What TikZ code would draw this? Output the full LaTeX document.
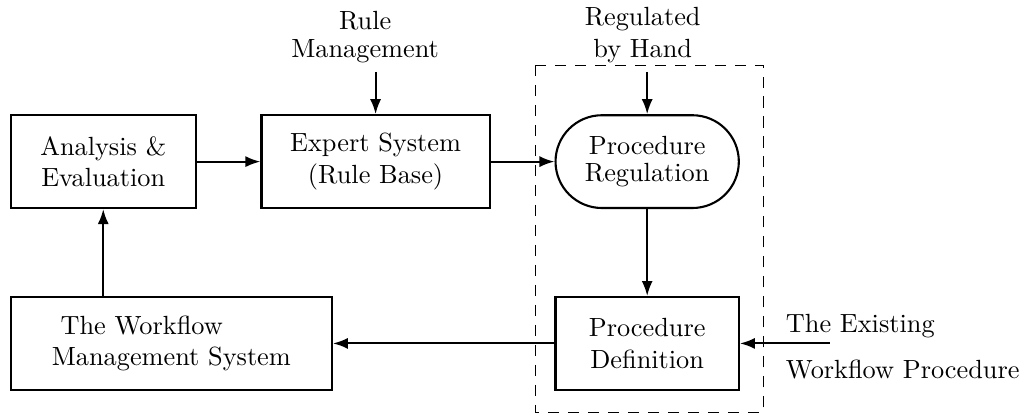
\documentclass[tikz,border=0pt]{standalone}
\usetikzlibrary{arrows.meta, positioning}
\tikzset{
    block/.style={draw, thick, minimum height=1.24cm, inner xsep=1pt, align=center},
    pill/.style={block, rounded corners=0.62cm},
    note/.style={align=center, inner sep=3pt, anchor=south},
}

\begin{document}
\begin{tikzpicture}[>={Latex[length=5.7pt,width=4.2pt]}, thick]
    \useasboundingbox (0,0) rectangle (13.82,-5.53);

    \node[block, minimum width=2.47cm] (ana) at (1.38, -2.16) {Analysis \&\\Evaluation};
    \node[block, minimum width=3.05cm] (exp) at (5.02, -2.16) {Expert System\\(Rule Base)};
    \node[pill, minimum width=2.45cm] (reg) at (8.65, -2.16) {Procedure\\[-1.4pt]Regulation};
    \node[block, minimum width=2.45cm] (def) at (8.65, -4.59) {Procedure\\Definition};
    \node[block, minimum width=4.29cm, align=left] (wfm) at (2.29, -4.59) {~The Workflow\\Management System};

    \node[note] (rule) at (4.88, -0.96) {Rule\\[-1.4pt]Management};
    \node[note] (hand) at (8.59, -0.96) {Regulated\\by Hand};
    \node[anchor=base west, inner sep=0] (ex1) at (10.49, -4.45) {The Existing};
    \node[anchor=base west, inner sep=0] (ex2) at (10.49, -5.06) {Workflow Procedure};
    \coordinate (src) at (11.09, -4.59);

    % region handled by the regulation step
    \draw[thin, dash pattern=on 4.2pt off 3.4pt] (7.16, -0.87) rectangle (10.20, -5.51);

    \draw[->] (ana) -- (exp);
    \draw[->] (exp) -- (reg);
    \draw[->] (reg) -- (def);
    \draw[->] (def) -- (wfm);
    \draw[->] (wfm.north -| ana.south) -- (ana.south);
    \draw[->] (rule.south -| exp.north) -- (exp.north);
    \draw[->] (hand.south -| reg.north) -- (reg.north);
    \draw[->] (src) -- (def.east);
\end{tikzpicture}
\end{document}
